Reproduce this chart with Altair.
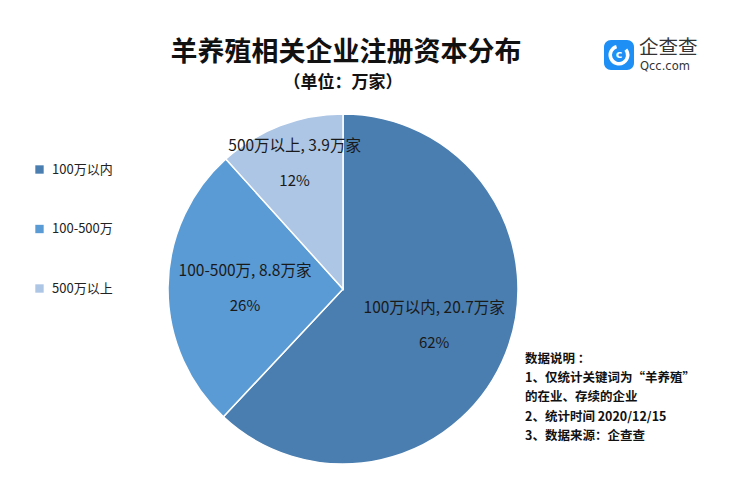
import altair as alt
import pandas as pd

categories = ["100万以内", "100-500万", "500万以上"]
values = [20.7, 8.8, 3.9]
pct_labels = ["62%", "26%", "12%"]
colors = ["#4A7EB0", "#5B9BD5", "#ADC6E6"]

title_text = "羊养殖相关企业注册资本分布"
subtitle_text = "（单位：万家）"
notes = ["数据说明 ：", "1、仅统计关键词为“羊养殖”", "的在业、存续的企业",
         "2、统计时间 2020/12/15", "3、数据来源：企查查"]

FONT = "Noto Sans CJK SC"
CX, CY, R = 343, 289, 175

df = pd.DataFrame({
    "category": categories,
    "value": values,
    "pct": pct_labels,
    "order": list(range(len(categories))),
})
df["label"] = [f"{c}, {v}万家" for c, v in zip(categories, values)]

pie = alt.Chart(df).mark_arc(outerRadius=R, stroke="white", strokeWidth=1.5).encode(
    theta=alt.Theta("value:Q", stack=True),
    color=alt.Color("category:N", scale=alt.Scale(domain=categories, range=colors),
                    legend=alt.Legend(orient="none", legendX=33, legendY=163, title=None,
                                      symbolType="square", symbolSize=70, symbolStrokeWidth=0,
                                      labelFontSize=13, labelFont=FONT, labelColor="#222",
                                      rowPadding=45.5, labelOffset=6)),
    order=alt.Order("order:Q"),
    x=alt.value(CX), y=alt.value(CY),
)

lab_base = alt.Chart(df).transform_window(
    cum="sum(value)", sort=[alt.SortField("order")]
).transform_joinaggregate(
    total="sum(value)"
).transform_calculate(
    mid="(datum.cum - datum.value / 2) / datum.total * 2 * PI",
    lr="datum.value / datum.total < 0.2 ? 135 : 98",
)

lab1 = lab_base.mark_text(font=FONT, fontSize=15.5, color="#1a1a1a", dy=-17).encode(
    theta=alt.Theta("mid:Q", scale=None, stack=None),
    radius=alt.Radius("lr:Q", scale=None),
    text="label:N",
    x=alt.value(CX), y=alt.value(CY),
)
lab2 = lab_base.mark_text(font=FONT, fontSize=15, color="#1a1a1a", dy=18).encode(
    theta=alt.Theta("mid:Q", scale=None, stack=None),
    radius=alt.Radius("lr:Q", scale=None),
    text="pct:N",
    x=alt.value(CX), y=alt.value(CY),
)

one = pd.DataFrame({"a": [0]})
title = alt.Chart(one).mark_text(font=FONT, fontSize=27, fontWeight="bold", color="#111").encode(
    x=alt.value(346), y=alt.value(53), text=alt.value(title_text))
subtitle = alt.Chart(one).mark_text(font=FONT, fontSize=17, fontWeight="bold", color="#111").encode(
    x=alt.value(343), y=alt.value(83), text=alt.value(subtitle_text))

notes_df = pd.DataFrame({"t": notes, "i": list(range(len(notes)))})
notes_layer = alt.Chart(notes_df).transform_calculate(
    ny="359 + 19.2 * datum.i"
).mark_text(font=FONT, fontSize=12.5, fontWeight="bold",
            color="#111", align="left", baseline="middle").encode(
    x=alt.value(525),
    y=alt.Y("ny:Q", scale=None),
    text="t:N",
)

logo_bg = alt.Chart(one).mark_rect(color="#1E90F5", cornerRadius=7).encode(
    x=alt.value(604), x2=alt.value(634), y=alt.value(40), y2=alt.value(70))
logo_ring = alt.Chart(one).mark_arc(color="white", innerRadius=7, outerRadius=10.5,
                                     theta=0.9, theta2=6.0).encode(
    x=alt.value(619), y=alt.value(55))
logo_c = alt.Chart(one).mark_text(font="DejaVu Sans", fontSize=11, fontWeight="bold",
                                  color="white").encode(
    x=alt.value(619), y=alt.value(55), text=alt.value("c"))
logo_t1 = alt.Chart(one).mark_text(font=FONT, fontSize=19.5, color="#333", align="left").encode(
    x=alt.value(639), y=alt.value(48), text=alt.value("企查查"))
logo_t2 = alt.Chart(one).mark_text(font="DejaVu Sans", fontSize=11.5, color="#333",
                                   align="left").encode(
    x=alt.value(640), y=alt.value(67), text=alt.value("Qcc.com"))

chart = alt.layer(pie, lab1, lab2, title, subtitle, notes_layer,
                  logo_bg, logo_ring, logo_c, logo_t1, logo_t2).properties(
    width=744, height=478, padding=0, autosize="none", background="white"
).configure_view(stroke=None)

chart.save("out.html", embed_options={"renderer": "svg", "actions": False})
